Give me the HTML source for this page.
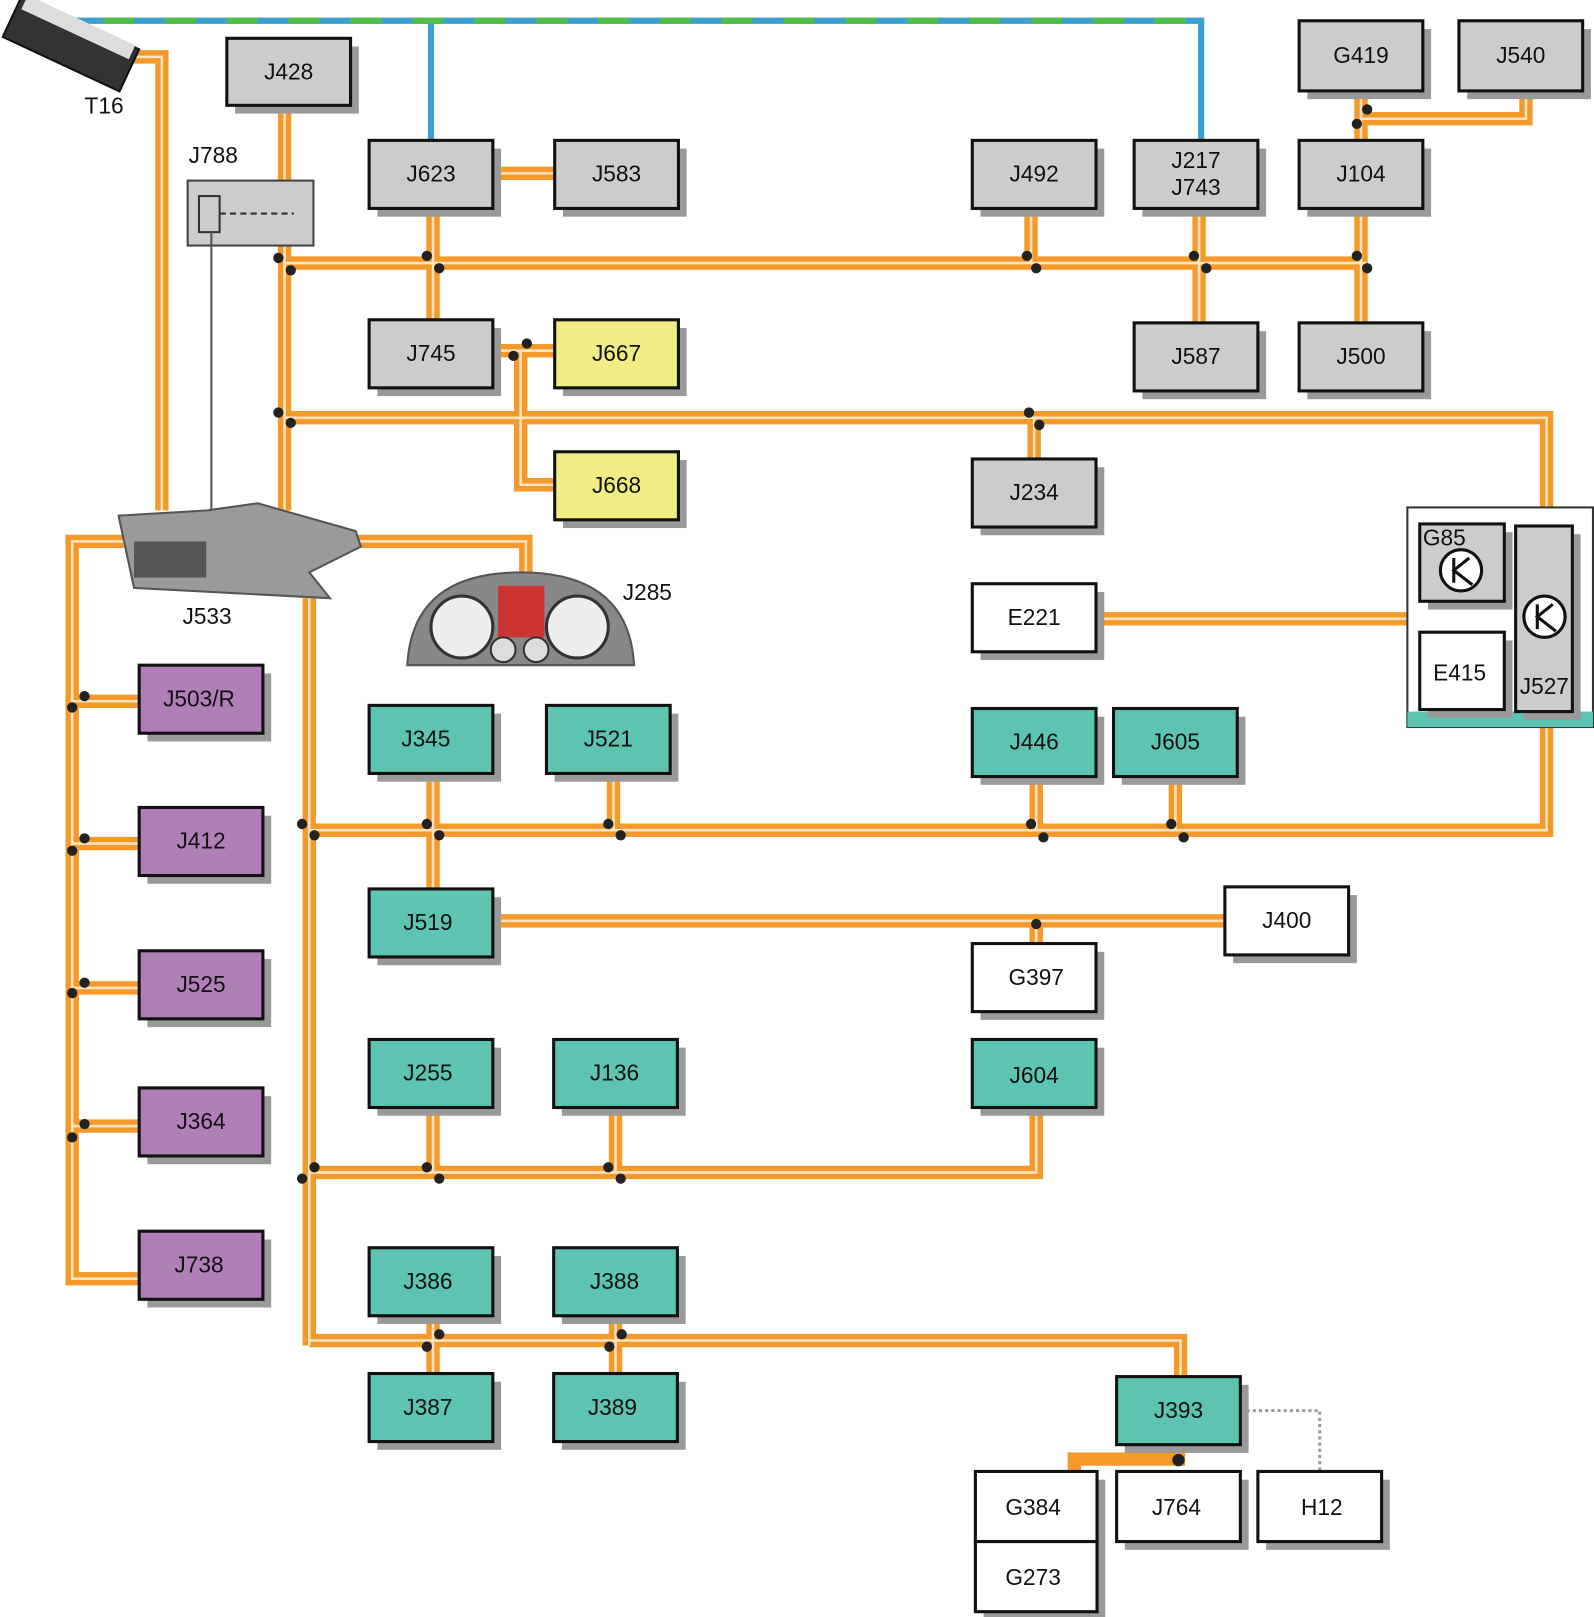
<!DOCTYPE html>
<html><head><meta charset="utf-8"><style>
html,body{margin:0;padding:0;background:#fff;}
svg{display:block;}
text{font-family:"Liberation Sans",Arial,sans-serif;font-size:22px;fill:#111;}
</style></head><body>
<svg width="1594" height="1617" viewBox="0 0 1546 1568" xmlns="http://www.w3.org/2000/svg">
<defs>
<g id="d"><circle r="5" fill="#222"/></g>
</defs>
<!-- top blue/green line -->
<g fill="none">
<path d="M40 20 H1165 V136 M418 20 V136" stroke="#3aa0d0" stroke-width="6"/>
<path d="M40 20 H1165" stroke="#4fbf48" stroke-width="6" stroke-dasharray="30 30"/>
</g>
<!-- orange buses -->
<g fill="none" stroke="#f39a2a" stroke-width="13" stroke-linejoin="miter">
<path d="M128 55 H157 V495"/>
<path d="M276 102 V495"/>
<path d="M276 255 H1325"/>
<path d="M420 202 V310"/>
<path d="M1000 202 V255"/>
<path d="M1163 202 V313"/>
<path d="M1320 88 V136 M1320 202 V313"/>
<path d="M1320 115 H1480 V88"/>
<path d="M478 168 H538"/>
<path d="M478 340 H538 M505 340 V470 H538"/>
<path d="M276 405 H1500 V510"/>
<path d="M1003 405 V445"/>
<path d="M1063 600 H1470"/>
<path d="M120 525 H70 V1240 H135"/>
<path d="M70 680 H135 M70 818 H135 M70 958 H135 M70 1092 H135"/>
<path d="M340 525 H510 V555"/>
<path d="M300 580 V1305"/>
<path d="M300 805 H1500 V690"/>
<path d="M420 750 V862 M595 750 V805 M1005 753 V805 M1140 753 V805"/>
<path d="M478 893 H1188 M1005 893 V915"/>
<path d="M300 1137 H1005 V1075 M420 1075 V1137 M597 1075 V1137"/>
<path d="M300 1300 H1145 V1335 M420 1276 V1332 M597 1276 V1332"/>
<path d="M1143 1400 V1415 H1042 V1427"/>
</g>
<g fill="none" stroke="#fde3bf" stroke-width="2.5">
<path d="M128 55 H157 V495"/>
<path d="M276 102 V495"/>
<path d="M276 255 H1325"/>
<path d="M420 202 V310"/>
<path d="M1000 202 V255"/>
<path d="M1163 202 V313"/>
<path d="M1320 88 V136 M1320 202 V313"/>
<path d="M1320 115 H1480 V88"/>
<path d="M478 168 H538"/>
<path d="M478 340 H538 M505 340 V470 H538"/>
<path d="M276 405 H1500 V510"/>
<path d="M1003 405 V445"/>
<path d="M1063 600 H1470"/>
<path d="M120 525 H70 V1240 H135"/>
<path d="M70 680 H135 M70 818 H135 M70 958 H135 M70 1092 H135"/>
<path d="M340 525 H510 V555"/>
<path d="M300 580 V1305"/>
<path d="M300 805 H1500 V690"/>
<path d="M420 750 V862 M595 750 V805 M1005 753 V805 M1140 753 V805"/>
<path d="M478 893 H1188 M1005 893 V915"/>
<path d="M300 1137 H1005 V1075 M420 1075 V1137 M597 1075 V1137"/>
<path d="M300 1300 H1145 V1335 M420 1276 V1332 M597 1276 V1332"/>
</g>
<path d="M1203 1368 H1280 V1427" fill="none" stroke="#999" stroke-width="3" stroke-dasharray="3 3"/>
<!-- J788 -->
<text x="183" y="158">J788</text>
<rect x="182" y="175" width="122" height="63" fill="#ccc" stroke="#444" stroke-width="2"/>
<rect x="193" y="190" width="20" height="35" fill="none" stroke="#333" stroke-width="2"/>
<path d="M213 207 H285" stroke="#333" stroke-width="2" stroke-dasharray="6 4"/>
<path d="M205 225 V495" stroke="#555" stroke-width="2"/>
<!-- T16 connector -->
<g transform="rotate(25 70 45)"><rect x="5" y="20" width="125" height="45" fill="#333" stroke="#111" stroke-width="2"/><rect x="10" y="18" width="115" height="15" fill="#ddd"/></g>
<text x="82" y="110">T16</text>
<!-- J533 -->
<path d="M115 500 L200 495 L250 488 L345 515 L350 530 L300 555 L320 580 L130 570 Z" fill="#9a9a9a" stroke="#555" stroke-width="2"/>
<rect x="130" y="525" width="70" height="35" fill="#555"/>
<text x="177" y="605">J533</text>
<!-- J285 -->
<path d="M395 645 Q400 555 505 555 Q610 555 615 645 Z" fill="#888" stroke="#555" stroke-width="2"/>
<circle cx="448" cy="608" r="30" fill="#eee" stroke="#333" stroke-width="3"/>
<circle cx="560" cy="608" r="30" fill="#eee" stroke="#333" stroke-width="3"/>
<rect x="483" y="568" width="45" height="50" fill="#c33"/>
<circle cx="488" cy="630" r="12" fill="#ddd" stroke="#333" stroke-width="2"/>
<circle cx="520" cy="630" r="12" fill="#ddd" stroke="#333" stroke-width="2"/>
<text x="604" y="582">J285</text>
<!-- G85/J527 group -->
<rect x="1365" y="492" width="180" height="213" fill="#fff" stroke="#333" stroke-width="2"/>
<rect x="1365" y="690" width="180" height="15" fill="#5cc4b0"/>
<g stroke="#111" stroke-width="3">
<rect x="1478" y="518" width="55" height="180" fill="#999" stroke="none"/>
<rect x="1470" y="510" width="55" height="180" fill="#ccc"/>
<rect x="1385" y="516" width="82" height="75" fill="#999" stroke="none"/>
<rect x="1377" y="508" width="82" height="75" fill="#ccc"/>
<rect x="1385" y="621" width="82" height="75" fill="#999" stroke="none"/>
<rect x="1377" y="613" width="82" height="75" fill="#fff"/>
<circle cx="1417" cy="553" r="20" fill="#fff"/>
<circle cx="1498" cy="598" r="20" fill="#fff"/>
<path d="M1410 541 V565 M1425 541 L1410 553 L1428 567 M1491 586 V610 M1506 586 L1491 598 L1509 612" fill="none"/>
</g>
<text x="1380" y="529">G85</text>
<text x="1390" y="660">E415</text>
<text x="1474" y="673">J527</text>
<!-- boxes -->
<g stroke="#111" stroke-width="3">
<g id="boxes"></g>
</g>
<g font-size="22">
<!-- gray -->
<g fill="#ccc">
</g>
</g>
<g>
<!-- box macro: shadow + box -->
<g fill="#999">
<rect x="228" y="45" width="120" height="65"/>
<rect x="366" y="144" width="120" height="66"/><rect x="546" y="144" width="120" height="66"/>
<rect x="951" y="144" width="120" height="66"/><rect x="1108" y="144" width="120" height="66"/>
<rect x="1268" y="144" width="120" height="66"/><rect x="1268" y="28" width="120" height="68"/>
<rect x="1423" y="28" width="120" height="68"/><rect x="366" y="318" width="120" height="66"/>
<rect x="546" y="318" width="120" height="66"/><rect x="546" y="446" width="120" height="66"/>
<rect x="1108" y="321" width="120" height="66"/><rect x="1268" y="321" width="120" height="66"/>
<rect x="951" y="453" width="120" height="66"/><rect x="951" y="574" width="120" height="66"/>
<rect x="143" y="653" width="120" height="66"/><rect x="143" y="791" width="120" height="66"/>
<rect x="143" y="930" width="120" height="66"/><rect x="143" y="1063" width="120" height="66"/>
<rect x="143" y="1202" width="120" height="66"/>
<rect x="366" y="692" width="120" height="66"/><rect x="538" y="692" width="120" height="66"/>
<rect x="951" y="695" width="120" height="66"/><rect x="1088" y="695" width="120" height="66"/>
<rect x="366" y="870" width="120" height="66"/><rect x="366" y="1016" width="120" height="66"/>
<rect x="545" y="1016" width="120" height="66"/><rect x="951" y="1016" width="120" height="66"/>
<rect x="366" y="1218" width="120" height="66"/><rect x="545" y="1218" width="120" height="66"/>
<rect x="366" y="1340" width="120" height="66"/><rect x="545" y="1340" width="120" height="66"/>
<rect x="1091" y="1343" width="120" height="66"/>
<rect x="1196" y="868" width="120" height="66"/><rect x="951" y="923" width="120" height="66"/>
<rect x="954" y="1435" width="118" height="136"/><rect x="1091" y="1435" width="120" height="68"/>
<rect x="1228" y="1435" width="120" height="68"/>
</g>
<g stroke="#111" stroke-width="3">
<g fill="#ccc">
<rect x="220" y="37" width="120" height="65"/>
<rect x="358" y="136" width="120" height="66"/><rect x="538" y="136" width="120" height="66"/>
<rect x="943" y="136" width="120" height="66"/><rect x="1100" y="136" width="120" height="66"/>
<rect x="1260" y="136" width="120" height="66"/><rect x="1260" y="20" width="120" height="68"/>
<rect x="1415" y="20" width="120" height="68"/><rect x="358" y="310" width="120" height="66"/>
<rect x="1100" y="313" width="120" height="66"/><rect x="1260" y="313" width="120" height="66"/>
<rect x="943" y="445" width="120" height="66"/>
</g>
<g fill="#f1ec84">
<rect x="538" y="310" width="120" height="66"/><rect x="538" y="438" width="120" height="66"/>
</g>
<g fill="#b07fb8">
<rect x="135" y="645" width="120" height="66"/><rect x="135" y="783" width="120" height="66"/>
<rect x="135" y="922" width="120" height="66"/><rect x="135" y="1055" width="120" height="66"/>
<rect x="135" y="1194" width="120" height="66"/>
</g>
<g fill="#5cc4b0">
<rect x="358" y="684" width="120" height="66"/><rect x="530" y="684" width="120" height="66"/>
<rect x="943" y="687" width="120" height="66"/><rect x="1080" y="687" width="120" height="66"/>
<rect x="358" y="862" width="120" height="66"/><rect x="358" y="1008" width="120" height="66"/>
<rect x="537" y="1008" width="120" height="66"/><rect x="943" y="1008" width="120" height="66"/>
<rect x="358" y="1210" width="120" height="66"/><rect x="537" y="1210" width="120" height="66"/>
<rect x="358" y="1332" width="120" height="66"/><rect x="537" y="1332" width="120" height="66"/>
<rect x="1083" y="1335" width="120" height="66"/>
</g>
<g fill="#fff">
<rect x="943" y="566" width="120" height="66"/>
<rect x="1188" y="860" width="120" height="66"/><rect x="943" y="915" width="120" height="66"/>
<rect x="946" y="1427" width="118" height="68"/><rect x="946" y="1495" width="118" height="68"/>
<rect x="1083" y="1427" width="120" height="68"/><rect x="1220" y="1427" width="120" height="68"/>
</g>
</g>
</g>
<g text-anchor="middle">
<text x="280" y="77">J428</text>
<text x="418" y="176">J623</text><text x="598" y="176">J583</text>
<text x="1003" y="176">J492</text>
<text x="1160" y="163">J217</text><text x="1160" y="189">J743</text>
<text x="1320" y="176">J104</text><text x="1320" y="61">G419</text><text x="1475" y="61">J540</text>
<text x="418" y="350">J745</text><text x="598" y="350">J667</text><text x="598" y="478">J668</text>
<text x="1160" y="353">J587</text><text x="1320" y="353">J500</text>
<text x="1003" y="485">J234</text><text x="1003" y="606">E221</text>
<text x="193" y="685">J503/R</text><text x="195" y="823">J412</text><text x="195" y="962">J525</text>
<text x="195" y="1095">J364</text><text x="193" y="1234">J738</text>
<text x="413" y="724">J345</text><text x="590" y="724">J521</text>
<text x="1003" y="727">J446</text><text x="1140" y="727">J605</text>
<text x="415" y="902">J519</text><text x="1248" y="900">J400</text><text x="1005" y="955">G397</text>
<text x="415" y="1048">J255</text><text x="596" y="1048">J136</text><text x="1003" y="1050">J604</text>
<text x="415" y="1250">J386</text><text x="596" y="1250">J388</text>
<text x="415" y="1372">J387</text><text x="594" y="1372">J389</text>
<text x="1143" y="1375">J393</text>
<text x="1002" y="1469">G384</text><text x="1002" y="1537">G273</text>
<text x="1141" y="1469">J764</text><text x="1282" y="1469">H12</text>
</g>
<!-- dots -->
<g fill="#222">
<circle cx="270" cy="250" r="5"/><circle cx="282" cy="262" r="5"/>
<circle cx="414" cy="248" r="5"/><circle cx="426" cy="260" r="5"/>
<circle cx="996" cy="248" r="5"/><circle cx="1005" cy="260" r="5"/>
<circle cx="1158" cy="248" r="5"/><circle cx="1170" cy="260" r="5"/>
<circle cx="1316" cy="248" r="5"/><circle cx="1326" cy="260" r="5"/>
<circle cx="1316" cy="120" r="5"/><circle cx="1326" cy="106" r="5"/>
<circle cx="498" cy="345" r="5"/><circle cx="511" cy="333" r="5"/>
<circle cx="270" cy="400" r="5"/><circle cx="282" cy="410" r="5"/>
<circle cx="998" cy="400" r="5"/><circle cx="1008" cy="412" r="5"/>
<circle cx="70" cy="686" r="5"/><circle cx="82" cy="675" r="5"/>
<circle cx="70" cy="825" r="5"/><circle cx="82" cy="813" r="5"/>
<circle cx="70" cy="963" r="5"/><circle cx="82" cy="953" r="5"/>
<circle cx="70" cy="1103" r="5"/><circle cx="82" cy="1090" r="5"/>
<circle cx="293" cy="799" r="5"/><circle cx="305" cy="810" r="5"/>
<circle cx="414" cy="799" r="5"/><circle cx="426" cy="810" r="5"/>
<circle cx="590" cy="799" r="5"/><circle cx="602" cy="810" r="5"/>
<circle cx="1000" cy="799" r="5"/><circle cx="1012" cy="812" r="5"/>
<circle cx="1136" cy="799" r="5"/><circle cx="1148" cy="812" r="5"/>
<circle cx="1005" cy="896" r="5"/>
<circle cx="293" cy="1143" r="5"/><circle cx="305" cy="1132" r="5"/>
<circle cx="414" cy="1132" r="5"/><circle cx="426" cy="1143" r="5"/>
<circle cx="590" cy="1132" r="5"/><circle cx="602" cy="1143" r="5"/>
<circle cx="414" cy="1306" r="5"/><circle cx="426" cy="1294" r="5"/>
<circle cx="591" cy="1306" r="5"/><circle cx="603" cy="1294" r="5"/>
<circle cx="1143" cy="1416" r="6"/>
</g>
</svg>
</body></html>
